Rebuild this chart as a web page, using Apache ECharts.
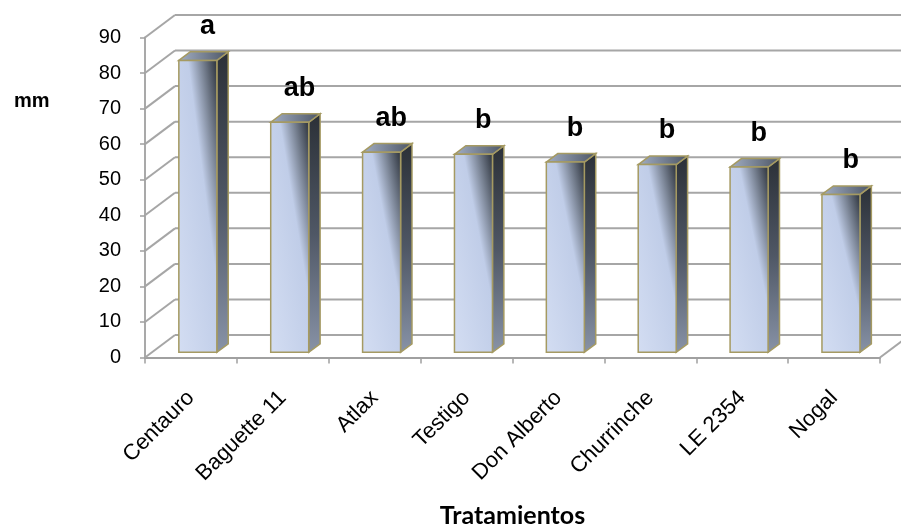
<!DOCTYPE html>
<html>
<head>
<meta charset="utf-8">
<script src="https://cdn.jsdelivr.net/npm/echarts@6/dist/echarts.min.js"></script>
<style>
  html, body { margin: 0; padding: 0; background: #ffffff; }
  #chart { width: 901px; height: 529px; }
</style>
</head>
<body>
<div id="chart"></div>
<script>
// Treatments and their measured values (mm)
const categories = ['Centauro', 'Baguette 11', 'Atlax', 'Testigo', 'Don Alberto', 'Churrinche', 'LE 2354', 'Nogal'];
const values = [82.1, 64.7, 56.3, 55.7, 53.5, 52.8, 52.1, 44.4];
const letters = ['a', 'ab', 'ab', 'b', 'b', 'b', 'b', 'b'];
const yTicks = [0, 10, 20, 30, 40, 50, 60, 70, 80, 90];

// Oblique depth of the 3D box (pixels from the front plane to the back wall)
const DEPTH_X = 30;
const DEPTH_Y = 22.5;
// Bar placement inside the box depth (fractions of full depth) and half width
const BAR_FRONT = 0.23;
const BAR_BACK = 0.61;
const BAR_HALF = 19;

const GRID_LINE = '#a6a6a6';
const EDGE = '#a59a62';

const chart = echarts.init(document.getElementById('chart'), null, { renderer: 'canvas' });

function renderWalls(params, api) {
  const cs = params.coordSys;
  const x0 = cs.x;
  const x1 = cs.x + cs.width;
  const v = api.value(1);
  const y = api.coord([0, v])[1];
  const style = { stroke: GRID_LINE, lineWidth: 2 };
  const children = [
    { type: 'line', shape: { x1: x0, y1: y, x2: x0 + DEPTH_X, y2: y - DEPTH_Y }, style },
    { type: 'line', shape: { x1: x0 + DEPTH_X, y1: y - DEPTH_Y, x2: x1 + DEPTH_X, y2: y - DEPTH_Y }, style }
  ];
  if (v === 0) {
    children.push({ type: 'line', shape: { x1: x1, y1: y, x2: x1 + DEPTH_X, y2: y - DEPTH_Y }, style });
  }
  return { type: 'group', children };
}

// Front face shading: light at the lower left, dark in the upper right corner.
// The gradient runs across the face, perpendicular to its top-left/bottom-right diagonal.
function frontGradient(x, y, w, h) {
  const len = Math.sqrt(w * w + h * h);
  const nx = h / len, ny = -w / len;
  const half = (w * h) / len;
  const cx = x + w / 2, cy = y + h / 2;
  return new echarts.graphic.LinearGradient(
    cx - nx * half, cy - ny * half, cx + nx * half, cy + ny * half,
    [
      { offset: 0, color: '#d3ddf2' },
      { offset: 0.62, color: '#c0cde8' },
      { offset: 0.8, color: '#7b8596' },
      { offset: 1, color: '#2d333c' }
    ],
    true
  );
}

function renderBar(params, api) {
  const i = api.value(0);
  const v = api.value(1);
  const top = api.coord([i, v]);
  const base = api.coord([i, 0]);
  const w = BAR_HALF * 2;
  const fx = top[0] - BAR_HALF + BAR_FRONT * DEPTH_X;
  const fy = top[1] - BAR_FRONT * DEPTH_Y;
  const by = base[1] - BAR_FRONT * DEPTH_Y;
  const dx = (BAR_BACK - BAR_FRONT) * DEPTH_X;
  const dy = (BAR_BACK - BAR_FRONT) * DEPTH_Y;

  const sideFill = new echarts.graphic.LinearGradient(0, 0, 0, 1, [
    { offset: 0, color: '#2b3037' },
    { offset: 0.5, color: '#4f5765' },
    { offset: 1, color: '#8893a7' }
  ]);
  const topFill = new echarts.graphic.LinearGradient(0, 0, 1, 0, [
    { offset: 0, color: '#a3afc4' },
    { offset: 1, color: '#4c5564' }
  ]);

  return {
    type: 'group',
    children: [
      {
        type: 'polygon',
        shape: { points: [[fx + w, fy], [fx + w + dx, fy - dy], [fx + w + dx, by - dy], [fx + w, by]] },
        style: { fill: sideFill, stroke: EDGE, lineWidth: 1.5 }
      },
      {
        type: 'polygon',
        shape: { points: [[fx, fy], [fx + dx, fy - dy], [fx + w + dx, fy - dy], [fx + w, fy]] },
        style: { fill: topFill, stroke: EDGE, lineWidth: 1.5 }
      },
      {
        type: 'rect',
        shape: { x: fx, y: fy, width: w, height: by - fy },
        style: { fill: frontGradient(fx, fy, w, by - fy), stroke: EDGE, lineWidth: 1.5 }
      },
      {
        type: 'text',
        style: {
          text: letters[params.dataIndex],
          x: fx + w / 2 + dx / 2 + 4,
          y: fy - 34,
          align: 'center',
          verticalAlign: 'middle',
          fill: '#000000',
          font: 'bold 27px "Liberation Sans", Arial, sans-serif'
        }
      }
    ]
  };
}

chart.setOption({
  animation: false,
  backgroundColor: '#ffffff',
  title: {
    text: 'mm',
    left: 9,
    top: 86,
    textStyle: { fontFamily: '"Liberation Sans", Arial, sans-serif', fontWeight: 'bold', fontSize: 20, color: '#000' }
  },
  grid: { left: 145, right: 21, top: 37.5, bottom: 171.5, containLabel: false, outerBoundsMode: 'none' },
  xAxis: {
    type: 'category',
    data: categories,
    boundaryGap: true,
    name: 'Tratamientos',
    nameLocation: 'middle',
    nameGap: 146,
    nameTextStyle: { fontFamily: 'Lato, "Open Sans", sans-serif', fontWeight: 'bold', fontSize: 25, color: '#000' },
    axisLine: { show: true, lineStyle: { color: '#a0a0a0', width: 1.8 } },
    axisTick: { show: true, alignWithLabel: false, length: 6, lineStyle: { color: '#a0a0a0', width: 1.5 } },
    axisLabel: {
      interval: 0,
      rotate: 45,
      margin: 37,
      fontFamily: '"Liberation Sans", Arial, sans-serif',
      fontSize: 22,
      color: '#000'
    },
    splitLine: { show: false }
  },
  yAxis: {
    type: 'value',
    min: 0,
    max: 90,
    interval: 10,
    axisLine: { show: true, lineStyle: { color: '#a0a0a0', width: 1.8 } },
    axisTick: { show: true, length: 5, lineStyle: { color: '#a0a0a0', width: 1.5 } },
    axisLabel: {
      margin: 24,
      fontFamily: '"Liberation Sans", Arial, sans-serif',
      fontSize: 20,
      color: '#000'
    },
    splitLine: { show: false }
  },
  series: [
    {
      type: 'custom',
      name: 'walls',
      renderItem: renderWalls,
      data: yTicks.map(v => [0, v]),
      z: 1,
      silent: true
    },
    {
      type: 'custom',
      name: 'mm',
      renderItem: renderBar,
      data: values.map((v, i) => [i, v]),
      z: 3
    }
  ]
});
</script>
</body>
</html>
